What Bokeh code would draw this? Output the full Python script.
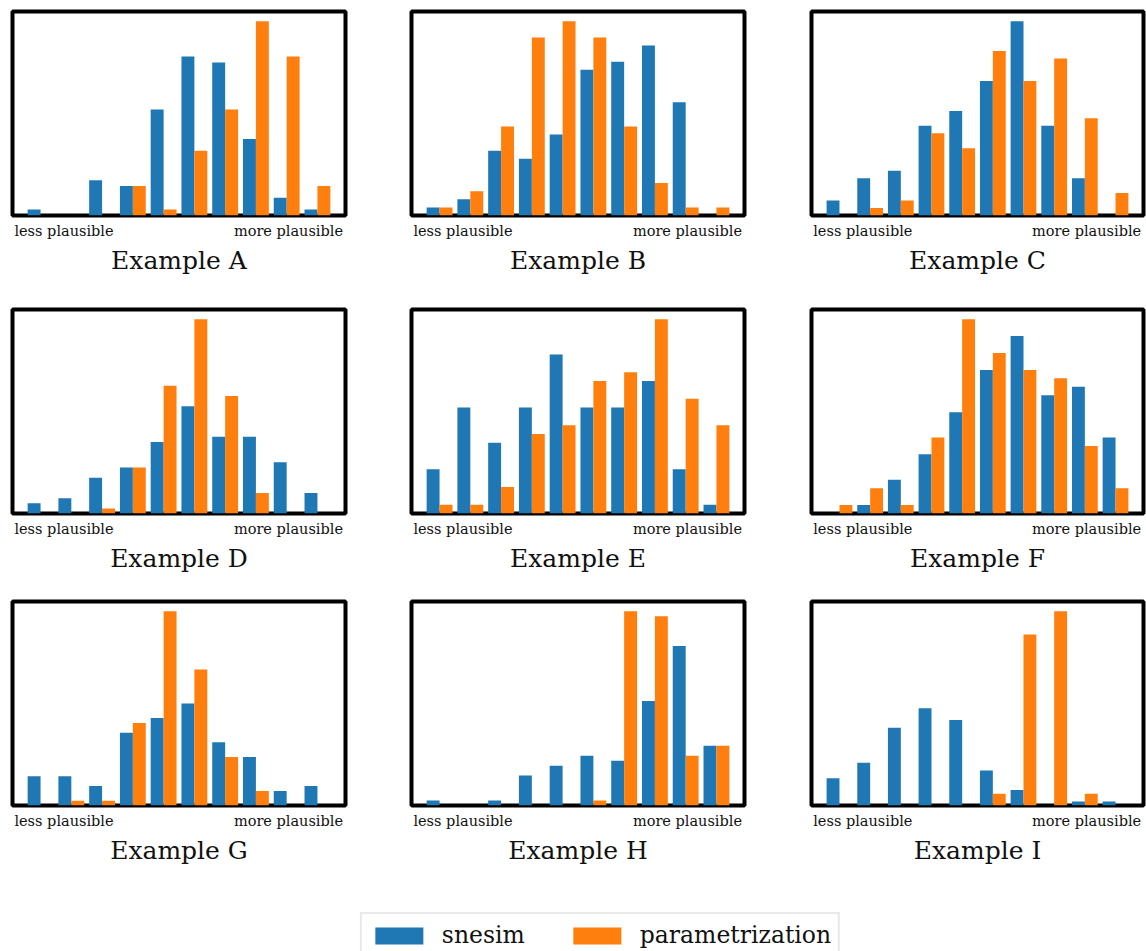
from bokeh.plotting import figure
from bokeh.layouts import row, column
from bokeh.models import (Range1d, FixedTicker, CustomJSTickFormatter, Legend, LegendItem,
                          ColumnDataSource)
from bokeh.embed import file_html
from bokeh.resources import INLINE

# ---- data (percent of samples per plausibility bin, 10 bins) ----
titles = ["Example A", "Example B", "Example C", "Example D", "Example E",
          "Example F", "Example G", "Example H", "Example I"]
snesim_A = [1, 0, 6, 5, 18, 27, 26, 13, 3, 1]
param_A = [0, 0, 0, 5, 1, 11, 18, 33, 27, 5]
snesim_B = [1, 2, 8, 7, 10, 18, 19, 21, 14, 0]
param_B = [1, 3, 11, 22, 24, 22, 11, 4, 1, 1]
snesim_C = [2, 5, 6, 12, 14, 18, 26, 12, 5, 0]
param_C = [0, 1, 2, 11, 9, 22, 18, 21, 13, 3]
snesim_D = [2, 3, 7, 9, 14, 21, 15, 15, 10, 4]
param_D = [0, 0, 1, 9, 25, 38, 23, 4, 0, 0]
snesim_E = [5, 12, 8, 12, 18, 12, 12, 15, 5, 1]
param_E = [1, 1, 3, 9, 10, 15, 16, 22, 13, 10]
snesim_F = [0, 1, 4, 7, 12, 17, 21, 14, 15, 9]
param_F = [1, 3, 1, 9, 23, 19, 17, 16, 8, 3]
snesim_G = [6, 6, 4, 15, 18, 21, 13, 10, 3, 4]
param_G = [0, 1, 1, 17, 40, 28, 10, 3, 0, 0]
snesim_H = [1, 0, 1, 6, 8, 10, 9, 21, 32, 12]
param_H = [0, 0, 0, 0, 0, 1, 39, 38, 10, 12]
snesim_I = [7, 11, 20, 25, 22, 9, 4, 0, 1, 1]
param_I = [0, 0, 0, 0, 0, 3, 44, 50, 3, 0]
bins = list(range(10))
axis_labels = ["less plausible", "more plausible"]
series_names = ["snesim", "parametrization"]

snesim = [snesim_A, snesim_B, snesim_C, snesim_D, snesim_E, snesim_F, snesim_G, snesim_H, snesim_I]
param = [param_A, param_B, param_C, param_D, param_E, param_F, param_G, param_H, param_I]

BLUE = "#1f77b4"
ORANGE = "#ff7f0e"
FONT = "DejaVu Serif"
BW = 0.42
XR = (-0.912, 9.912)

col_w = [407, 400, 339]
col_bl = [12, 4, 4]
col_br = [62, 63, 3]
row_h = [306, 292, 306]
row_bt = [11, 3, 3]
row_bb = [91, 85, 99]


def panel(i):
    r, c = divmod(i, 3)
    b, o = snesim[i], param[i]
    ymax = max(max(b), max(o)) * 1.05
    p = figure(width=col_w[c], height=row_h[r], min_border=0,
               min_border_left=col_bl[c], min_border_right=col_br[c],
               min_border_top=row_bt[r], min_border_bottom=row_bb[r],
               x_range=Range1d(*XR), y_range=Range1d(0, ymax),
               y_axis_location=None, toolbar_location=None, tools="",
               output_backend="svg")
    src = ColumnDataSource(dict(xb=[x - BW / 2 for x in bins],
                                xo=[x + BW / 2 for x in bins], b=b, o=o))
    p.vbar(x="xb", top="b", width=BW, bottom=0, source=src, fill_color=BLUE, line_color=None)
    p.vbar(x="xo", top="o", width=BW, bottom=0, source=src, fill_color=ORANGE, line_color=None)
    p.grid.visible = False
    p.outline_line_color = "black"
    p.outline_line_width = 4
    p.outline_line_alpha = 1.0
    ax = p.xaxis[0]
    ax.ticker = FixedTicker(ticks=[0.762, 8.058], minor_ticks=[])
    ax.formatter = CustomJSTickFormatter(
        args=dict(labels=axis_labels),
        code="return tick < 5 ? labels[0] : labels[1];")
    ax.axis_line_color = None
    ax.major_tick_line_color = None
    ax.minor_tick_line_color = None
    ax.major_tick_in = 0
    ax.major_tick_out = 0
    ax.major_label_standoff = 7
    ax.major_label_text_font = FONT
    ax.major_label_text_font_size = "14.5px"
    ax.major_label_text_color = "#111111"
    ax.axis_label = titles[i]
    ax.axis_label_text_font = FONT
    ax.axis_label_text_font_size = "25px"
    ax.axis_label_text_font_style = "normal"
    ax.axis_label_text_color = "#111111"
    ax.axis_label_standoff = 4
    return p


panels = [panel(i) for i in range(9)]

# legend figure
lf = figure(width=1146, height=47, min_border=0, min_border_left=54,
            x_range=Range1d(0, 1), y_range=Range1d(0, 1),
            x_axis_location=None, y_axis_location=None,
            toolbar_location=None, tools="", output_backend="svg")
lf.outline_line_color = None
lf.grid.visible = False
hidden = ColumnDataSource(dict(x=[-10], top=[-5], bottom=[-6]))
r1 = lf.vbar(x="x", top="top", bottom="bottom", width=0.1, source=hidden,
             fill_color=BLUE, line_color=None)
r2 = lf.vbar(x="x", top="top", bottom="bottom", width=0.1, source=hidden,
             fill_color=ORANGE, line_color=None)
leg = Legend(items=[LegendItem(label=series_names[0], renderers=[r1]),
                    LegendItem(label=series_names[1], renderers=[r2])],
             orientation="horizontal", location="top_center", margin=8,
             padding=7, spacing=42, label_standoff=13,
             glyph_width=60, glyph_height=21,
             label_text_font=FONT, label_text_font_size="23.5px",
             label_text_color="#111111",
             border_line_color="#d4d4d4", border_line_width=2,
             background_fill_color="white", background_fill_alpha=1.0)
lf.add_layout(leg, "center")

layout = column(row(*panels[0:3]), row(*panels[3:6]), row(*panels[6:9]), lf)

with open("out.html", "w") as f:
    f.write(file_html(layout, INLINE))
